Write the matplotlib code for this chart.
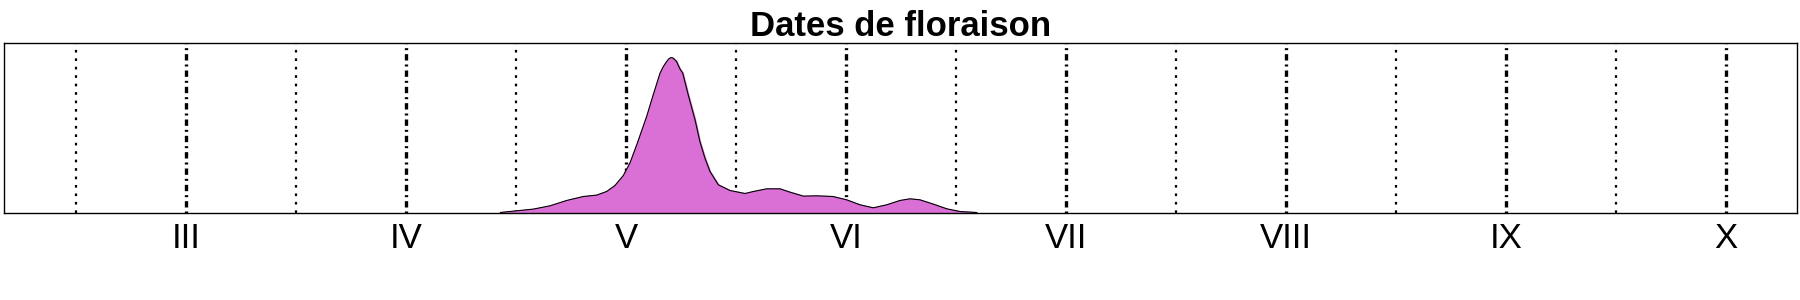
import numpy as np
import matplotlib
matplotlib.use("Agg")
import matplotlib.pyplot as plt

plt.rcParams['font.family'] = ['Liberation Sans', 'DejaVu Sans']

# dates en mois (3 = mars) et hauteur de densite
mois = [4.43, 4.45, 4.495, 4.579, 4.655, 4.730, 4.806, 4.867, 4.912, 4.950, 4.988,
        5.018, 5.049, 5.094, 5.124, 5.155, 5.170, 5.185, 5.195, 5.205, 5.215,
        5.230, 5.245, 5.258, 5.283,
        5.314, 5.336, 5.359, 5.382, 5.420, 5.473, 5.541, 5.579, 5.640, 5.700,
        5.745, 5.806, 5.867, 5.941, 6.003, 6.064, 6.124, 6.185, 6.245, 6.291,
        6.336, 6.397, 6.458, 6.518, 6.594]
densite = [0, 0.5, 1.5, 3.4, 6.7, 12, 16, 17.4, 21, 27, 37,
           49.4, 67.7, 96, 117.7, 139.4, 146, 151, 153.7, 155, 154.3,
           151, 143.7, 139.4, 117.7,
           92.7, 71, 54.4, 41, 27.7, 22, 19, 21, 23.7, 23.7,
           20.4, 16.4, 16.7, 16, 12.7, 7.7, 4.7, 7.7, 12, 13.7,
           12.7, 8.4, 3.7, 1, 0]

pos_mois = [3, 4, 5, 6, 7, 8, 9, 10]
noms_mois = ["III", "IV", "V", "VI", "VII", "VIII", "IX", "X"]
demi_mois = [2.5, 3.5, 4.5, 5.5, 6.5, 7.5, 8.5, 9.5]

fig = plt.figure(figsize=(18, 3), dpi=100)
ax = fig.add_axes([4 / 1800, 1 - 212.5 / 300, 1793 / 1800, 169.5 / 300])

for x in demi_mois:
    ax.axvline(x, color="black", lw=1.6, linestyle=(0, (1.2, 2.6)), zorder=1)
for x in pos_mois:
    ax.axvline(x, color="black", lw=2.4, linestyle=(0, (0.6, 1.2, 1.9, 1.2)), zorder=1)

ax.fill_between(mois, densite, 0, color="orchid", edgecolor="orchid", lw=1.2, zorder=2)
ax.plot(mois, densite, color="black", lw=0.8, zorder=3)

ax.set_xlim(2.173, 10.323)
ax.set_ylim(0, max(densite) * 169.5 / 155)
ax.set_xticks(pos_mois)
ax.set_xticklabels(noms_mois, fontsize=25)
ax.tick_params(axis="x", length=0, pad=7)
ax.set_yticks([])
for s in ax.spines.values():
    s.set_linewidth(1.0)

ax.set_title("Dates de floraison", fontsize=25, fontweight="bold", pad=5.3)

fig.savefig("out.png", dpi=100)
